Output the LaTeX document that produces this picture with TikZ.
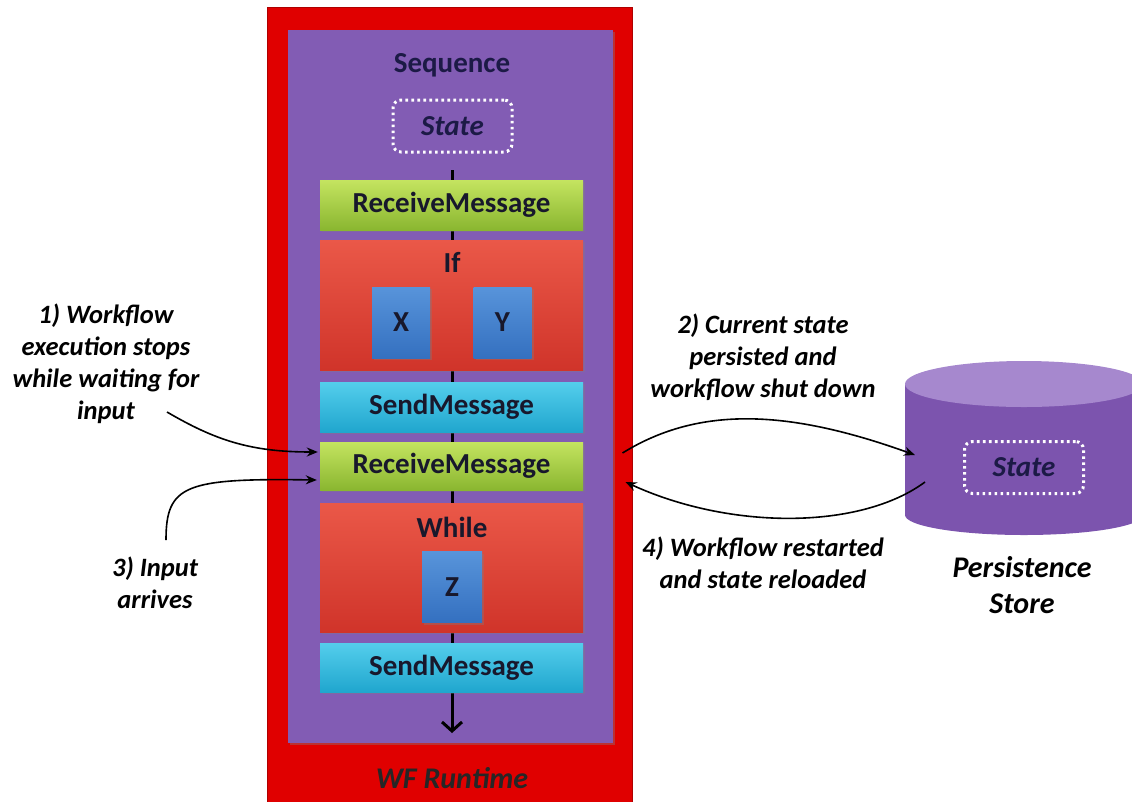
\documentclass[tikz,border=0pt]{standalone}
\usepackage{fontspec}
\setmainfont{Carlito}
\usetikzlibrary{arrows.meta,calc,shadows}
\definecolor{rtred}{RGB}{224,0,0}
\definecolor{rtdark}{RGB}{175,0,0}
\definecolor{seqpurple}{RGB}{130,92,180}
\definecolor{grnTop}{RGB}{196,228,96}
\definecolor{grnBot}{RGB}{138,182,48}
\definecolor{redTop}{RGB}{234,88,72}
\definecolor{redBot}{RGB}{208,52,42}
\definecolor{bluTop}{RGB}{88,148,218}
\definecolor{bluBot}{RGB}{52,112,192}
\definecolor{cyaTop}{RGB}{84,206,236}
\definecolor{cyaBot}{RGB}{32,166,206}
\definecolor{txtdark}{RGB}{24,24,44}
\definecolor{seqtxt}{RGB}{28,26,70}
\definecolor{cylBody}{RGB}{124,84,174}
\definecolor{cylTop}{RGB}{166,136,206}
\tikzset{
  boxtxt/.style={font=\bfseries\fontsize{29}{34}\selectfont, text=txtdark},
  actbox/.style={boxtxt, draw=none, inner sep=0pt, minimum width=263pt,
     drop shadow={opacity=0.35, shadow xshift=2pt, shadow yshift=-2pt}},
  greenbox/.style={actbox, top color=grnTop, bottom color=grnBot},
  cyanbox/.style={actbox, top color=cyaTop, bottom color=cyaBot},
  redbox/.style={actbox, top color=redTop, bottom color=redBot},
  bluebox/.style={actbox, minimum width=58pt, minimum height=71pt, top color=bluTop, bottom color=bluBot},
  statebox/.style={draw=white, line width=3pt, dash pattern=on 2.6pt off 3.4pt,
     rounded corners=8pt, minimum width=119pt, minimum height=52pt, inner sep=0pt,
     font=\bfseries\itshape\fontsize{29}{34}\selectfont, text=seqtxt},
  lbl/.style={font=\bfseries\itshape\fontsize{26.5}{32}\selectfont, align=center, inner sep=0pt, text=black},
  conn/.style={line width=1.6pt, -{Stealth[length=11pt,width=9pt]}}
}
\begin{document}
\begin{tikzpicture}[x=1pt,y=-1pt]
\useasboundingbox (0,0) rectangle (1132,801);
% runtime and sequence
\node[fill=rtred, draw=rtdark, line width=1pt, minimum width=365pt, minimum height=810pt, inner sep=0pt] (runtime) at (449.5,412) {};
\node[fill=seqpurple, draw=none, minimum width=325pt, minimum height=713pt, inner sep=0pt,
      drop shadow={opacity=0.4, shadow xshift=2pt, shadow yshift=-2pt}] (seq) at (450.5,386.5) {};
\node[boxtxt, text=seqtxt, inner sep=0pt] (seqlbl) at (452,65) {Sequence};
\node[statebox] (state) at (452.5,126) {State};
\node[font=\bfseries\itshape\fontsize{30}{36}\selectfont, text=black!85, inner sep=0pt] (wflbl) at (452,778) {WF Runtime};
% sequence flow line
\coordinate (flowtop) at (452,170);
\coordinate (flowend) at (452,733);
\draw[line width=3pt, -{Straight Barb[length=9pt,width=20pt,line width=3pt]}] (flowtop) -- (flowend);
% activities
\node[greenbox, minimum height=50pt] (rm1) at (451.5,205) {ReceiveMessage};
\node[redbox, minimum height=130pt] (if) at (451.5,305) {};
\node[boxtxt, inner sep=0pt] (iflbl) at (452,262) {If};
\node[bluebox, boxtxt] (x) at (401,322.5) {X};
\node[bluebox, boxtxt] (y) at (502.5,322.5) {Y};
\node[cyanbox, minimum height=50pt] (sm1) at (451.5,407) {SendMessage};
\node[greenbox, minimum height=48pt] (rm2) at (451.5,466) {ReceiveMessage};
\node[redbox, minimum height=129pt] (while) at (451.5,567.5) {};
\node[boxtxt, inner sep=0pt] (whilelbl) at (452,527) {While};
\node[bluebox, boxtxt, minimum width=60pt] (z) at (452,587) {Z};
\node[cyanbox, minimum height=49pt] (sm2) at (451.5,667.5) {SendMessage};
% persistence store cylinder
\fill[cylBody] (905,384) -- (905,515) arc[x radius=119, y radius=20, start angle=180, end angle=0]
   -- (1143,384) -- cycle;
\fill[cylTop] (1024,384) ellipse[x radius=119, y radius=23];
\node[statebox] (pstate) at (1024,467.5) {State};
\coordinate (store) at (1024,450);
\node[lbl, font=\bfseries\itshape\fontsize{30}{36}\selectfont] (storelbl) at (1022,585.5) {Persistence\\Store};
% labels
\node[lbl] (l1) at (106,363.5) {1) Workflow\\execution stops\\while waiting for\\input};
\node[lbl] (l3) at (155,582.5) {3) Input\\arrives};
\node[lbl] (l2) at (763,357) {2) Current state\\persisted and\\workflow shut down};
\node[lbl] (l4) at (763,563) {4) Workflow restarted\\and state reloaded};
% connectors
\coordinate (a1s) at (167,412);
\coordinate (a3s) at (166,540);
\draw[conn] (a1s) .. controls (215,440) and (250,452) .. ($(rm2.west)+(-2,-14)$);
\draw[conn] (a3s) .. controls (166,485) and (185,478) .. ($(rm2.west)+(-3,14)$);
\draw[conn] ($(runtime.east)+(-10,41)$) .. controls (700,405) and (790,410) .. ($(store)+(-109,5)$);
\draw[conn] ($(store)+(-99,32)$) .. controls (860,530) and (730,530) .. ($(runtime.east)+(-7,70)$);
\end{tikzpicture}
\end{document}
